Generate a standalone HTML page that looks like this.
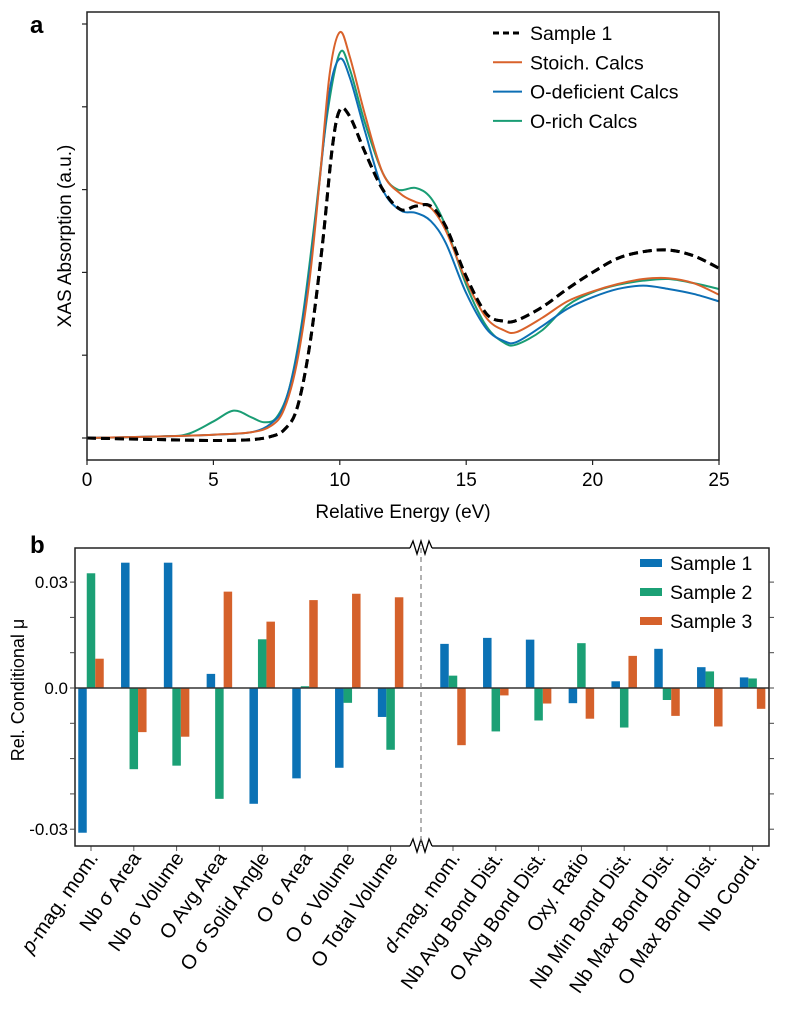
<!DOCTYPE html>
<html><head><meta charset="utf-8">
<style>
html,body{margin:0;padding:0;background:#fff;}
svg{display:block;font-family:"Liberation Sans",sans-serif;}
</style></head>
<body>
<svg id="fig" width="790" height="1035" viewBox="0 0 790 1035" xmlns="http://www.w3.org/2000/svg">
<g id="pa"></g>
<g id="pb"></g>
</svg>
<script>
// ---------- Panel a data ----------
const xasTicksX = [0, 5, 10, 15, 20, 25];
const s1E = [0,3,5,6.5,7.3,7.8,8.3,8.8,9.3,9.7,10,10.4,11,11.7,12.4,13,13.6,14.2,15,15.8,16.5,17,18,19,20,21,22,23,24,25];
const s1V = [0,-0.02,-0.03,-0.02,0.02,0.1,0.35,1.1,2.3,3.5,3.96,3.88,3.45,3.0,2.76,2.8,2.8,2.55,1.95,1.5,1.41,1.42,1.58,1.8,2.0,2.17,2.25,2.27,2.2,2.05];
const stE = [0,3,5,6.5,7.3,7.8,8.3,8.8,9.2,9.6,10,10.4,11,11.7,12.4,13,13.6,14.2,15,15.8,16.5,17,18,19,20,21,22,23,24,25];
const stV = [0,0.02,0.04,0.07,0.15,0.35,0.9,1.9,3.1,4.4,4.9,4.6,3.9,3.2,2.95,2.85,2.78,2.5,1.9,1.45,1.3,1.28,1.45,1.65,1.77,1.86,1.92,1.93,1.87,1.73];
const odE = [0,3,5,6.5,7.3,7.8,8.3,8.8,9.2,9.6,10,10.4,11,11.7,12.4,13,13.6,14.2,15,15.8,16.5,17,18,19,20,21,22,23,24,25];
const odV = [0,0.02,0.04,0.07,0.18,0.4,1.0,2.0,3.1,4.2,4.58,4.35,3.7,3.0,2.75,2.72,2.62,2.35,1.75,1.32,1.17,1.16,1.35,1.56,1.7,1.8,1.84,1.8,1.74,1.65];
const orE = [0,3,4,5,5.8,6.5,7,7.5,8,8.5,9,9.5,10,10.4,11,11.7,12.3,13,13.6,14.2,15,15.8,16.5,17,18,19,20,21,22,23,24,25];
const orV = [0,0.02,0.05,0.2,0.33,0.25,0.19,0.25,0.6,1.4,2.6,3.9,4.65,4.45,3.8,3.2,3.0,3.02,2.9,2.55,1.85,1.35,1.15,1.13,1.3,1.6,1.76,1.85,1.9,1.92,1.87,1.8];

// ---------- Panel b data ----------
const categories = ["p-mag. mom.","Nb σ Area","Nb σ Volume","O Avg Area","O σ Solid Angle","O σ Area","O σ Volume","O Total Volume","d-mag. mom.","Nb Avg Bond Dist.","O Avg Bond Dist.","Oxy. Ratio","Nb Min Bond Dist.","Nb Max Bond Dist.","O Max Bond Dist.","Nb Coord."];
const sample1 = [-0.041,0.0355,0.0355,0.004,-0.0328,-0.0256,-0.0226,-0.0082,0.0125,0.0142,0.0137,-0.0043,0.0019,0.0111,0.0059,0.003];
const sample2 = [0.0325,-0.023,-0.022,-0.0314,0.0138,0.0005,-0.0042,-0.0175,0.0035,-0.0123,-0.0092,0.0127,-0.0112,-0.0034,0.0047,0.0027];
const sample3 = [0.0083,-0.0125,-0.0138,0.0273,0.0188,0.0249,0.0267,0.0257,-0.0162,-0.0021,-0.0044,-0.0087,0.0091,-0.0079,-0.0109,-0.0059];
const yTickVals = [0.03,0.02,0.01,0,-0.01,-0.02,-0.03,-0.04];
const yTickLabels = ["0.03","","","0.0","","","","-0.03"];

const NS="http://www.w3.org/2000/svg";
function mk(parent,tag,attrs,text){const e=document.createElementNS(NS,tag);for(const k in attrs)e.setAttribute(k,attrs[k]);if(text!==undefined)e.textContent=text;parent.appendChild(e);return e;}
function smooth(pts){let d="M"+pts[0][0].toFixed(2)+","+pts[0][1].toFixed(2);
 for(let i=0;i<pts.length-1;i++){const p0=pts[Math.max(i-1,0)],p1=pts[i],p2=pts[i+1],p3=pts[Math.min(i+2,pts.length-1)];
  const c1=[p1[0]+(p2[0]-p0[0])/6,p1[1]+(p2[1]-p0[1])/6],c2=[p2[0]-(p3[0]-p1[0])/6,p2[1]-(p3[1]-p1[1])/6];
  d+=" C"+c1[0].toFixed(2)+","+c1[1].toFixed(2)+" "+c2[0].toFixed(2)+","+c2[1].toFixed(2)+" "+p2[0].toFixed(2)+","+p2[1].toFixed(2);}
 return d;}

// ---------- Panel a ----------
const pa=document.getElementById('pa');
const aL=87,aR=719,aT=12,aB=460;
const ax=e=>aL+(e-0)/(25-0)*(aR-aL);
const ay=v=>438-82.8*v;
let t;
t=mk(pa,'text',{x:30,y:33,'font-size':24,'font-weight':'bold'},'a');


const series=[
 {E:s1E,V:s1V,c:'#000',dash:'9,5',w:3,n:'sample-1-line'},
 {E:orE,V:orV,c:'#1a9d74',dash:'',w:2,n:'o-rich-calcs-line'},
 {E:odE,V:odV,c:'#0d6fb5',dash:'',w:2,n:'o-deficient-calcs-line'},
 {E:stE,V:stV,c:'#d9622b',dash:'',w:2,n:'stoich-calcs-line'}];
series.forEach(s=>{
 const p=mk(pa,'path',{d:smooth(s.E.map((e,i)=>[ax(e),ay(s.V[i])])),fill:'none',stroke:s.c,'stroke-width':s.w,'stroke-dasharray':s.dash});
 
 
});
{const s=series[0];const p=mk(pa,'path',{d:smooth(s.E.map((e,i)=>[ax(e),ay(s.V[i])])),fill:'none',stroke:s.c,'stroke-width':s.w,'stroke-dasharray':s.dash});
 
 }
t=mk(pa,'rect',{x:aL,y:aT,width:aR-aL,height:aB-aT,fill:'none',stroke:'#222','stroke-width':1.5});


xasTicksX.forEach(v=>{
 const l=mk(pa,'line',{x1:ax(v),x2:ax(v),y1:aB,y2:aB+5,stroke:'#222','stroke-width':1.2});
 
 
 const tx=mk(pa,'text',{x:ax(v),y:aB+26,'font-size':19,'text-anchor':'middle'},String(v));
 
 
});
[0,1,2,3,4,5].forEach(v=>{
 const l=mk(pa,'line',{x1:aL-5,x2:aL,y1:ay(v),y2:ay(v),stroke:'#222','stroke-width':1.2});
 
 
});
t=mk(pa,'text',{x:403,y:518,'font-size':19,'text-anchor':'middle'},'Relative Energy (eV)');


t=mk(pa,'text',{x:71,y:236,'font-size':19,'text-anchor':'middle',transform:'rotate(-90 71 236)'},'XAS Absorption (a.u.)');


const leg=[['Sample 1','#000','6,4',3],['Stoich. Calcs','#d9622b','',2],['O-deficient Calcs','#0d6fb5','',2],['O-rich Calcs','#1a9d74','',2]];
leg.forEach((r,i)=>{
 const y=33+i*29.3;
 const g=mk(pa,'g',{});
 
 
 mk(g,'line',{x1:493,x2:522,y1:y,y2:y,stroke:r[1],'stroke-width':r[3],'stroke-dasharray':r[2]});
 mk(g,'text',{x:530,y:y+7,'font-size':19.5},r[0]);
});

// ---------- Panel b ----------
const pb=document.getElementById('pb');
const bL=75,bR=769,bT=548,bB=846,brk=421;
const zeroY=688,per=3530;
const by=v=>zeroY-v*per;
const leftTicks0=91,rightTicks0=453,step=42.8;
const bx=i=> i<8 ? leftTicks0+i*step : rightTicks0+(i-8)*step;
const bw=8.5;
t=mk(pb,'text',{x:30,y:553,'font-size':24,'font-weight':'bold'},'b');


const sets=[[sample1,'#0b72b5',-1,'sample-1-bar'],[sample2,'#1ba075',0,'sample-2-bar'],[sample3,'#d5612b',1,'sample-3-bar']];
categories.forEach((c,i)=>{
 sets.forEach(s=>{
  const v=s[0][i];const y0=by(0),y1=by(v);
  const r=mk(pb,'rect',{x:bx(i)+s[2]*bw-bw/2,y:Math.min(y0,y1),width:bw,height:Math.abs(y1-y0),fill:s[1]});
  
  
 });
 const l=mk(pb,'line',{x1:bx(i),x2:bx(i),y1:bB,y2:bB+5,stroke:'#555','stroke-width':1});
 
 
 const tx=bx(i)+8,ty=858;
 const lb=mk(pb,'text',{x:tx,y:ty,'font-size':20,'text-anchor':'end',transform:`rotate(-55 ${tx} ${ty})`},'');
 
 
 if(c.startsWith('p-')||c.startsWith('d-')){
  mk(lb,'tspan',{'font-style':'italic'},c[0]);
  mk(lb,'tspan',{},c.slice(1));
 } else lb.textContent=c;
});
t=mk(pb,'line',{x1:bL,x2:bR,y1:zeroY,y2:zeroY,stroke:'#333','stroke-width':1.5});


t=mk(pb,'path',{d:`M410,${bT} L${bL},${bT} L${bL},${bB} L410,${bB} M432,${bT} L${bR},${bT} L${bR},${bB} L432,${bB}`,fill:'none',stroke:'#222','stroke-width':1.5});


[bT,bB].forEach(y=>{
 const z=mk(pb,'path',{d:`M410,${y} L413,${y-7} L417,${y+6} L421,${y-7} L425,${y+6} L429,${y-7} L432,${y}`,fill:'none',stroke:'#000','stroke-width':1.3});
 
 
});
t=mk(pb,'line',{x1:brk,x2:brk,y1:bT,y2:bB,stroke:'#888','stroke-width':1.3,'stroke-dasharray':'5,4'});


yTickVals.forEach((v,i)=>{
 const y=by(v);
 const l=mk(pb,'line',{x1:bL-5,x2:bL,y1:y,y2:y,stroke:'#444','stroke-width':1});
 
 
 const r=mk(pb,'line',{x1:bR,x2:bR+5,y1:y,y2:y,stroke:'#444','stroke-width':1});
 
 
 if(yTickLabels[i]){
  const tx=mk(pb,'text',{x:68,y:y+6,'font-size':17,'text-anchor':'end'},yTickLabels[i]);
  
  
 }
});
t=mk(pb,'text',{x:24,y:690,'font-size':18,'text-anchor':'middle',transform:'rotate(-90 24 690)'},'Rel. Conditional μ');


[['Sample 1','#0b72b5'],['Sample 2','#1ba075'],['Sample 3','#d5612b']].forEach((r,i)=>{
 const y=563+i*29;
 const g=mk(pb,'g',{});
 
 
 mk(g,'rect',{x:640,y:y-4,width:22,height:8,fill:r[1]});
 mk(g,'text',{x:670,y:y+7,'font-size':19.5},r[0]);
});
</script>
</body></html>
